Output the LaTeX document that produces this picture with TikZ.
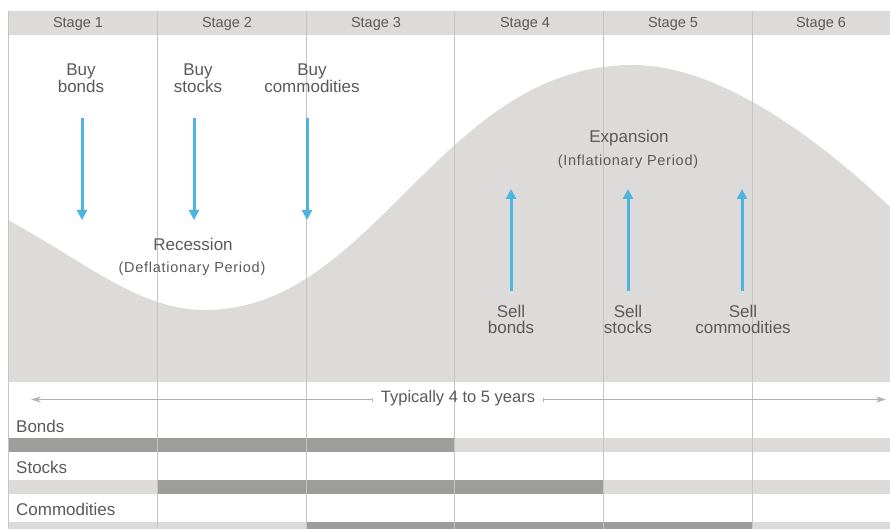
\documentclass[tikz,border=0pt]{standalone}
\usepackage{fontspec}
\setmainfont{Liberation Sans}
\usetikzlibrary{arrows.meta}
\definecolor{bandgray}{HTML}{DCDBDA}
\definecolor{darkbar}{HTML}{9D9D9C}
\definecolor{gridline}{HTML}{C4C4C4}
\definecolor{txt}{HTML}{5A5A5A}
\definecolor{arrowblue}{HTML}{4FB3E0}
\tikzset{
  lbl/.style={text=txt, font=\fontsize{17}{15.5}\selectfont, align=center, inner sep=0pt},
  stagelbl/.style={text=txt, font=\fontsize{14.5}{16}\selectfont, inner sep=0pt},
  phase/.style={text=txt, font=\fontsize{17}{18}\selectfont, inner sep=0pt},
  phasesub/.style={text=txt, font=\fontsize{14.5}{16}\selectfont\addfontfeature{LetterSpace=5}, inner sep=0pt},
  rowlbl/.style={text=txt, font=\fontsize{17}{18}\selectfont, anchor=west, inner sep=0pt},
  bluearrow/.style={draw=arrowblue, line width=3pt, -{Triangle[length=10pt,width=10pt]}},
  spanarrow/.style={draw=gray!60, line width=0.8pt, {Bar[width=4pt,line width=0.6pt]}-{Stealth[length=10pt,width=6pt]}},
  grid/.style={draw=gridline, line width=1pt}
}
\begin{document}
\begin{tikzpicture}[x=1pt,y=-1pt]
\useasboundingbox (0,0) rectangle (890,529);
\fill[white] (0,0) rectangle (890,529);
% header band
\fill[bandgray] (8,11) rectangle (890,35);
% wave
\fill[bandgray] (8,382) -- (8,220)
  .. controls (90,265) and (140,310) .. (205,310)
  .. controls (375,310) and (440,65) .. (633,65)
  .. controls (720,65) and (820,140) .. (890,207)
  -- (890,382) -- cycle;
% bars
\fill[darkbar] (8,438) rectangle (454,452);
\fill[bandgray] (454,438) rectangle (890,452);
\fill[bandgray] (8,480) rectangle (157,494);
\fill[darkbar] (157,480) rectangle (603,494);
\fill[bandgray] (603,480) rectangle (890,494);
\fill[bandgray] (8,522) rectangle (306,529);
\fill[darkbar] (306,522) rectangle (752,529);
\fill[bandgray] (752,522) rectangle (890,529);
% grid lines
\foreach \x in {8,157,306,454,603,752} {\draw[grid] (\x,11) -- (\x,529);}
% stage labels
\node[stagelbl] (s1) at (78,23.5) {Stage 1};
\node[stagelbl] (s2) at (227,23.5) {Stage 2};
\node[stagelbl] (s3) at (376,23.5) {Stage 3};
\node[stagelbl] (s4) at (525,23.5) {Stage 4};
\node[stagelbl] (s5) at (673,23.5) {Stage 5};
\node[stagelbl] (s6) at (821,23.5) {Stage 6};
% buy labels and arrows
\node[lbl] (bb) at (81,78.5) {Buy\\bonds};
\node[lbl] (bs) at (198,78.5) {Buy\\stocks};
\node[lbl] (bc) at (312,78.5) {Buy\\commodities};
\coordinate (bbs) at (82,118); \coordinate (bbe) at (82,220);
\coordinate (bss) at (194,118); \coordinate (bse) at (194,220);
\coordinate (bcs) at (307,118); \coordinate (bce) at (307,220);
\draw[bluearrow] (bbs) -- (bbe);
\draw[bluearrow] (bss) -- (bse);
\draw[bluearrow] (bcs) -- (bce);
% phases
\node[phase] (rec) at (193,244.5) {Recession};
\node[phasesub] (def) at (192,268.5) {(Deflationary Period)};
\node[phase] (exp) at (629,138.5) {Expansion};
\node[phasesub] (inf) at (628,161.5) {(Inflationary Period)};
% sell labels and arrows
\node[lbl] (sb) at (511,319.5) {Sell\\bonds};
\node[lbl] (ss) at (628,319.5) {Sell\\stocks};
\node[lbl] (sc) at (743,319.5) {Sell\\commodities};
\coordinate (sbs) at (511,291); \coordinate (sbe) at (511,189);
\coordinate (sss) at (628,291); \coordinate (sse) at (628,189);
\coordinate (scs) at (742,291); \coordinate (sce) at (742,189);
\draw[bluearrow] (sbs) -- (sbe);
\draw[bluearrow] (sss) -- (sse);
\draw[bluearrow] (scs) -- (sce);
% span
\node[text=txt, font=\fontsize{16.5}{18}\selectfont, inner sep=0pt] (span) at (458,398.5) {Typically 4 to 5 years};
\coordinate (spl) at (31,399.5);
\coordinate (spr) at (886,399.5);
\draw[spanarrow] (span.west |- spl) ++(-8,0) -- (spl);
\draw[spanarrow] (span.east |- spr) ++(8,0) -- (spr);
% row labels
\node[rowlbl] (rb) at (16,426.5) {Bonds};
\node[rowlbl] (rs) at (16,467.5) {Stocks};
\node[rowlbl] (rc) at (16,509.5) {Commodities};
\end{tikzpicture}
\end{document}
